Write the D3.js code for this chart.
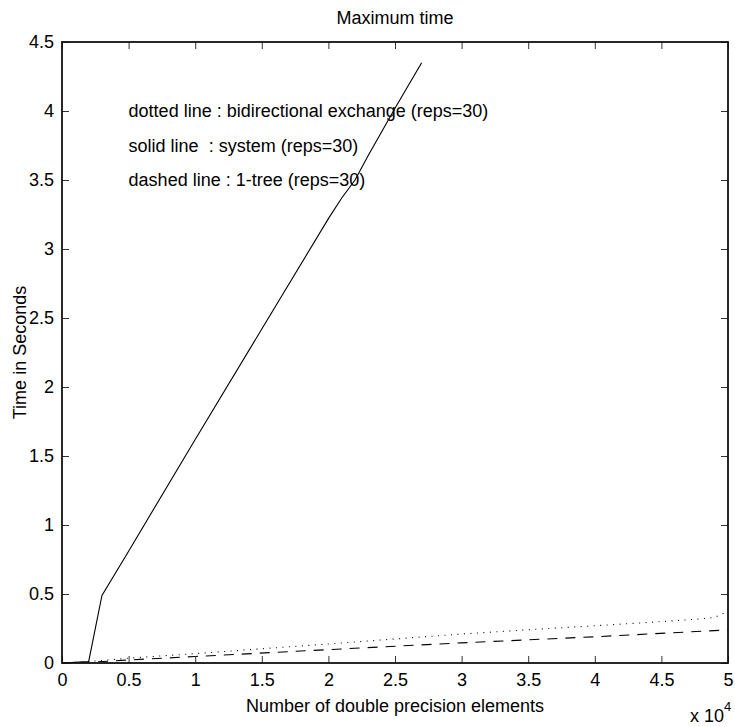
<!DOCTYPE html>
<html>
<head>
<meta charset="utf-8">
<script src="https://cdn.jsdelivr.net/npm/d3@7"></script>
<style>
  html, body { margin: 0; padding: 0; background: #fff; }
  svg { display: block; font-family: "Liberation Sans", Arial, Helvetica, sans-serif; }
  text { fill: #000; }
</style>
</head>
<body>
<svg id="chart" width="735" height="727"></svg>
<script>
// Problem sizes (number of double precision elements)
const systemX   = [0, 2000, 3000, 5000, 10000, 15000, 20000, 21000, 22000, 23000, 25000, 27000];
const systemY   = [0, 0.01, 0.49, 0.81, 1.62, 2.42, 3.22, 3.37, 3.50, 3.68, 4.02, 4.35];

const bidirX    = [0, 2000, 5000, 10000, 15000, 20000, 25000, 30000, 35000, 40000, 45000, 48000, 49000, 50000];
const bidirY    = [0, 0.01, 0.035, 0.068, 0.103, 0.138, 0.174, 0.21, 0.241, 0.27, 0.30, 0.32, 0.33, 0.375];

const treeX     = [0, 2000, 5000, 10000, 20000, 30000, 40000, 50000];
const treeY     = [0, 0.005, 0.022, 0.047, 0.097, 0.146, 0.19, 0.24];

const xTicks = [0, 5000, 10000, 15000, 20000, 25000, 30000, 35000, 40000, 45000, 50000];
const yTicks = [0, 0.5, 1, 1.5, 2, 2.5, 3, 3.5, 4, 4.5];

const legendLines = [
  { text: "dotted line : bidirectional exchange (reps=30)", y: 4.0 },
  { text: "solid line  : system (reps=30)", y: 3.75 },
  { text: "dashed line : 1-tree (reps=30)", y: 3.5 }
];

const svg = d3.select("#chart");
const plotLeft = 62, plotRight = 728, plotTop = 42, plotBottom = 663;
const fs = 18;

const x = d3.scaleLinear().domain([0, 50000]).range([plotLeft, plotRight]);
const y = d3.scaleLinear().domain([0, 4.5]).range([plotBottom, plotTop]);

const line = d3.line().x(d => x(d[0])).y(d => y(d[1]));

const series = [
  { xs: bidirX,  ys: bidirY,  dash: "1 5.5" },
  { xs: systemX, ys: systemY, dash: null },
  { xs: treeX,   ys: treeY,   dash: "10 8" }
];

svg.append("g").selectAll("path")
  .data(series)
  .join("path")
  .attr("d", s => line(s.xs.map((v, i) => [v, s.ys[i]])))
  .attr("fill", "none")
  .attr("stroke", "#000")
  .attr("stroke-width", 1.1)
  .attr("stroke-dasharray", s => s.dash);

// Inward ticks on all four sides
const tickLen = 7;
const fmtX = d => d3.format("~g")(d / 10000);

const bottomAxis = d3.axisBottom(x).tickValues(xTicks).tickSizeInner(-tickLen).tickSizeOuter(0).tickPadding(10).tickFormat(fmtX);
const topAxis = d3.axisTop(x).tickValues(xTicks).tickSizeInner(-tickLen).tickSizeOuter(0).tickFormat("");
const leftAxis = d3.axisLeft(y).tickValues(yTicks).tickSizeInner(-tickLen).tickSizeOuter(0).tickPadding(8).tickFormat(d3.format("~g"));
const rightAxis = d3.axisRight(y).tickValues(yTicks).tickSizeInner(-tickLen).tickSizeOuter(0).tickFormat("");

function styleAxis(g) {
  g.select(".domain").remove();
  g.selectAll(".tick line").attr("stroke", "#333").attr("stroke-width", 1);
  g.selectAll(".tick text").attr("font-size", fs).attr("font-family", "Liberation Sans, Arial, sans-serif").attr("fill", "#000");
}

svg.append("g").attr("transform", `translate(0,${plotBottom})`).call(bottomAxis).call(styleAxis);
svg.append("g").attr("transform", `translate(0,${plotTop})`).call(topAxis).call(styleAxis);
svg.append("g").attr("transform", `translate(${plotLeft},0)`).call(leftAxis).call(styleAxis);
svg.append("g").attr("transform", `translate(${plotRight},0)`).call(rightAxis).call(styleAxis);

// Axes box
svg.append("rect")
  .attr("x", plotLeft).attr("y", plotTop)
  .attr("width", plotRight - plotLeft).attr("height", plotBottom - plotTop)
  .attr("fill", "none").attr("stroke", "#111").attr("stroke-width", 1.8);

// Annotation text
svg.append("g").selectAll("text")
  .data(legendLines)
  .join("text")
  .attr("x", x(5000))
  .attr("y", d => y(d.y))
  .attr("dy", "0.35em")
  .attr("font-size", fs)
  .style("white-space", "pre")
  .text(d => d.text);

// Title and axis labels
svg.append("text")
  .attr("x", (plotLeft + plotRight) / 2).attr("y", 24)
  .attr("text-anchor", "middle").attr("font-size", fs)
  .text("Maximum time");

svg.append("text")
  .attr("x", (plotLeft + plotRight) / 2).attr("y", 712)
  .attr("text-anchor", "middle").attr("font-size", fs)
  .text("Number of double precision elements");

svg.append("text")
  .attr("transform", `translate(26,${(plotTop + plotBottom) / 2}) rotate(-90)`)
  .attr("text-anchor", "middle").attr("font-size", fs)
  .text("Time in Seconds");

// Exponent label for the x axis
const expo = svg.append("text")
  .attr("x", 690).attr("y", 722)
  .attr("font-size", fs);
expo.append("tspan").text("x 10");
expo.append("tspan").attr("dy", -11).attr("font-size", 13).text("4");
</script>
</body>
</html>
